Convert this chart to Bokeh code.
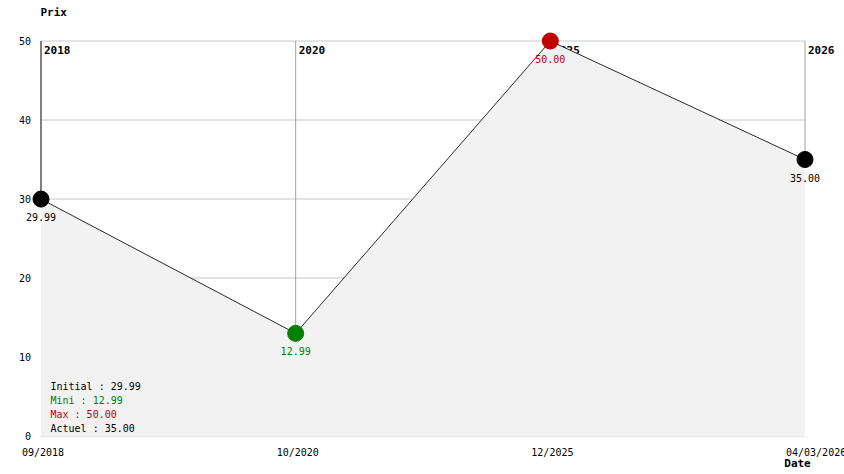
from bokeh.plotting import figure
from bokeh.models import Range1d, Label
from bokeh.core.properties import value
from bokeh.embed import file_html
from bokeh.resources import INLINE

dates = ["09/2018", "10/2020", "12/2025", "04/03/2026"]
years = ["2018", "2020", "2025", "2026"]
prices = [29.99, 12.99, 50.00, 35.00]
point_colors = ["#000000", "#008000", "#c00000", "#000000"]
y_ticks = [0, 10, 20, 30, 40, 50]
summary_names = ["Initial", "Mini", "Max", "Actuel"]
summary_values = [29.99, 12.99, 50.00, 35.00]
summary_colors = ["#000000", "#008000", "#c00000", "#000000"]

FONT = "DejaVu Sans Mono"
idx = list(range(len(dates)))

# canvas / plotting-area geometry in pixels
W, H = 844, 474
L, R, T, B = 40.5, 804.5, 40.5, 435.5
ymin, ymax = y_ticks[0], y_ticks[-1]
xppu = (R - L) / (idx[-1] - idx[0])
yppu = (B - T) / (ymax - ymin)
x_range = Range1d(idx[0] - L / xppu, idx[-1] + (W - R) / xppu)
y_range = Range1d(ymin - (H - B) / yppu, ymax + T / yppu)

p = figure(width=W, height=H, output_backend="svg", toolbar_location=None,
           x_range=x_range, y_range=y_range,
           x_axis_location=None, y_axis_location=None,
           min_border=0, min_border_left=0, min_border_right=0,
           min_border_top=0, min_border_bottom=0)
p.outline_line_color = None
p.background_fill_color = "white"
p.border_fill_color = "white"
p.grid.visible = False

# horizontal grid lines
p.segment(x0=[idx[0]] * len(y_ticks), y0=y_ticks, x1=[idx[-1]] * len(y_ticks), y1=y_ticks,
          line_color="#c8c8c8", line_width=1)
# vertical grid lines (from each point up to the top)
p.segment(x0=idx[1:], y0=prices[1:], x1=idx[1:], y1=[ymax] * (len(idx) - 1),
          line_color="#a0a0a0", line_width=1)
# left axis line
p.segment(x0=[idx[0]], y0=[prices[0]], x1=[idx[0]], y1=[ymax], line_color="black", line_width=1)

# tick labels
p.text(x=[idx[0]] * len(y_ticks), y=y_ticks, text=[str(t) for t in y_ticks], x_offset=-10,
       text_font=value(FONT), text_font_size="10px", text_baseline="middle",
       text_align="right", text_color="black")
p.text(x=idx, y=[ymin] * len(idx), text=dates, x_offset=-19, y_offset=11,
       text_font=value(FONT), text_font_size="10px", text_baseline="top",
       text_align="left", text_color="black")

# year labels at the top of each vertical line
p.text(x=idx, y=[ymax] * len(idx), text=years, x_offset=3, y_offset=5,
       text_font=value(FONT), text_font_size="11px", text_font_style="bold",
       text_baseline="top", text_align="left", text_color="black")

# shaded area and line
p.varea(x=idx, y1=[ymin] * len(idx), y2=prices, fill_color="#f2f2f2")
p.line(x=idx, y=prices, line_color="#2a2a2a", line_width=1)
p.scatter(x=idx, y=prices, size=16, fill_color=point_colors, line_color=point_colors)

# value labels
p.text(x=idx, y=prices, text=[f"{v:.2f}" for v in prices], y_offset=14,
       text_font=value(FONT), text_font_size="10px", text_baseline="top",
       text_align="center", text_color=point_colors)

# summary box
for i, (n, v, c) in enumerate(zip(summary_names, summary_values, summary_colors)):
    p.add_layout(Label(x=50, y=H - 386 - i * 14, x_units="screen", y_units="screen",
                       text=f"{n} : {v:.2f}", text_font=FONT, text_font_size="10px",
                       text_color=c, text_baseline="middle", text_align="left"))

# titles
p.add_layout(Label(x=40, y=H - 12, x_units="screen", y_units="screen", text="Prix",
                   text_font=FONT, text_font_size="11px", text_font_style="bold",
                   text_baseline="middle", text_align="left", text_color="black"))
p.add_layout(Label(x=797, y=H - 463, x_units="screen", y_units="screen", text="Date",
                   text_font=FONT, text_font_size="11px", text_font_style="bold",
                   text_baseline="middle", text_align="center", text_color="black"))

open("out.html", "w").write(file_html(p, INLINE))
